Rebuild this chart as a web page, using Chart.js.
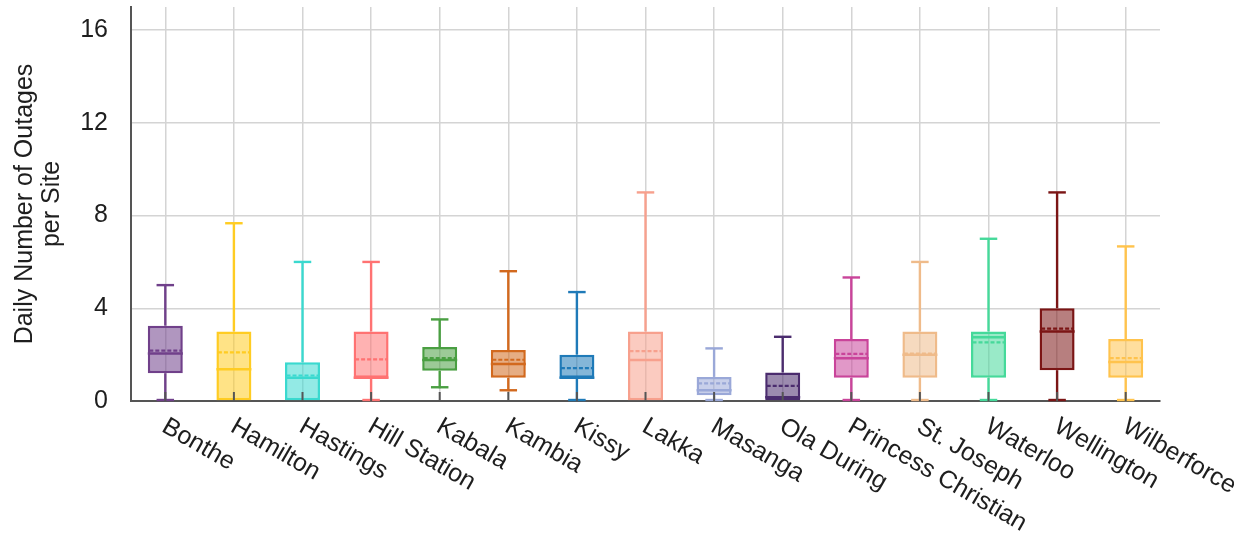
<!DOCTYPE html>
<html>
<head>
<meta charset="utf-8">
<title>Daily Number of Outages per Site</title>
<script src="https://cdn.jsdelivr.net/npm/chart.js@4.4.1/dist/chart.umd.min.js"></script>
<style>
  html, body { margin: 0; padding: 0; background: #ffffff; }
  #chart { display: block; }
</style>
</head>
<body>
<canvas id="chart" width="1246" height="533"></canvas>
<script>
// Sites on the category axis
const sites = ['Bonthe', 'Hamilton', 'Hastings', 'Hill Station', 'Kabala', 'Kambia', 'Kissy',
  'Lakka', 'Masanga', 'Ola During', 'Princess Christian', 'St. Joseph', 'Waterloo',
  'Wellington', 'Wilberforce'];

// Box-plot statistics of daily outages per site
const whiskerLow  = [0, 0, 0, 0, 0.55, 0.42, 0, 0, 0, 0, 0, 0, 0, 0, 0];
const q1          = [1.2, 0, 0, 1.0, 1.3, 1.0, 1.0, 0, 0.25, 0, 1.0, 1.0, 1.0, 1.33, 1.0];
const median      = [2.05, 1.37, 1.0, 1.0, 1.77, 1.6, 1.0, 1.77, 0.46, 0.16, 1.84, 2.0, 2.75, 3.0, 1.68];
const mean        = [2.17, 2.1, 1.1, 1.8, 1.85, 1.78, 1.42, 2.15, 0.76, 0.65, 2.03, 2.04, 2.53, 3.12, 1.85];
const q3          = [3.25, 3.0, 1.67, 3.0, 2.33, 2.2, 2.0, 3.0, 1.04, 1.23, 2.67, 3.0, 3.0, 4.0, 2.67];
const whiskerHigh = [5.0, 7.67, 6.0, 6.0, 3.52, 5.6, 4.7, 9.0, 2.27, 2.77, 5.33, 6.0, 7.0, 9.0, 6.67];

// Value-axis ticks
const yTicks = [0, 4, 8, 12, 16];

// One colour per site
const siteColors = ['#70408a', '#ffcc22', '#3ad9cf', '#ff7272', '#4a9f42', '#d2691e', '#1f7ab8',
  '#f7a08d', '#9aa8d8', '#4b2c6e', '#c9449a', '#efbb8a', '#45d99a', '#7b1515', '#ffc34d'];

const FONT = '"Liberation Sans", Arial, Helvetica, sans-serif';
const TEXT = '#1e1e1e';
const AXIS = '#555555';
const GRID = '#d4d4d4';

function withAlpha(hex, a) {
  const n = parseInt(hex.slice(1), 16);
  return `rgba(${(n >> 16) & 255}, ${(n >> 8) & 255}, ${n & 255}, ${a})`;
}

// Whiskers, caps, median and mean lines, inner axis ticks and slanted site names
const boxDetails = {
  id: 'boxDetails',
  afterDatasetsDraw(chart) {
    const ctx = chart.ctx;
    const ys = chart.scales.y;
    const area = chart.chartArea;
    const meta = chart.getDatasetMeta(0);
    const seg = (x1, y1, x2, y2) => { ctx.beginPath(); ctx.moveTo(x1, y1); ctx.lineTo(x2, y2); ctx.stroke(); };

    meta.data.forEach((bar, i) => {
      const cx = bar.x;
      const half = bar.width / 2;
      const capHalf = bar.width * 0.25;
      const col = siteColors[i];
      const py = v => ys.getPixelForValue(v);
      ctx.save();
      ctx.strokeStyle = col;
      ctx.lineWidth = 2.4;
      ctx.lineCap = 'butt';
      // upper whisker and cap
      seg(cx, py(q3[i]), cx, py(whiskerHigh[i]));
      seg(cx - capHalf, py(whiskerHigh[i]), cx + capHalf, py(whiskerHigh[i]));
      // lower whisker and cap
      if (whiskerLow[i] < q1[i]) {
        seg(cx, py(q1[i]), cx, py(whiskerLow[i]));
        seg(cx - capHalf, py(whiskerLow[i]) - 1, cx + capHalf, py(whiskerLow[i]) - 1);
      }
      // median
      ctx.lineWidth = 2.5;
      seg(cx - half, py(median[i]), cx + half, py(median[i]));
      // mean (dashed)
      ctx.lineWidth = 2.2;
      ctx.setLineDash([4, 2]);
      seg(cx - half + 1.5, py(mean[i]), cx + half - 1.5, py(mean[i]));
      ctx.restore();
    });

    // short tick marks pointing up into the plot at each site
    ctx.save();
    ctx.strokeStyle = AXIS;
    ctx.lineWidth = 2;
    meta.data.forEach(bar => seg(bar.x, area.bottom, bar.x, area.bottom - 9));
    ctx.restore();
  },
  afterDraw(chart) {
    const ctx = chart.ctx;
    const xs = chart.scales.x;
    const area = chart.chartArea;
    ctx.save();
    ctx.fillStyle = TEXT;
    ctx.font = `25px ${FONT}`;
    ctx.textAlign = 'left';
    ctx.textBaseline = 'top';
    sites.forEach((name, i) => {
      const x = xs.getPixelForValue(i);
      ctx.save();
      ctx.translate(x + 5, area.bottom + 13);
      ctx.rotate(Math.PI / 6);
      ctx.fillText(name, 0, 0);
      ctx.restore();
    });
    ctx.restore();
  }
};

new Chart(document.getElementById('chart'), {
  type: 'bar',
  data: {
    labels: sites,
    datasets: [{
      data: sites.map((_, i) => [q1[i], q3[i]]),
      backgroundColor: siteColors.map(c => withAlpha(c, 0.55)),
      borderColor: siteColors,
      borderWidth: 2.5,
      borderSkipped: false,
      barPercentage: 0.51,
      categoryPercentage: 1.0
    }]
  },
  options: {
    responsive: false,
    animation: false,
    events: [],
    layout: { padding: { top: 7, right: 86, bottom: 132, left: 0 } },
    plugins: {
      legend: { display: false },
      tooltip: { enabled: false },
      title: { display: false }
    },
    scales: {
      x: {
        type: 'category',
        offset: true,
        grid: { display: true, offset: false, color: GRID, lineWidth: 1.5, drawTicks: false },
        border: { display: true, color: AXIS, width: 2 },
        ticks: { display: false }
      },
      y: {
        min: 0,
        max: 17,
        afterBuildTicks: scale => { scale.ticks = yTicks.map(v => ({ value: v })); },
        afterFit: scale => {
          scale.width = 131;
          scale.paddingTop = 0;
          scale.paddingBottom = 0;
        },
        grid: { color: GRID, lineWidth: 1.5, drawTicks: false },
        border: { display: true, color: AXIS, width: 2 },
        ticks: {
          padding: 23,
          color: TEXT,
          font: { family: FONT, size: 25 }
        },
        title: {
          display: true,
          text: ['Daily Number of Outages', 'per Site'],
          color: TEXT,
          font: { family: FONT, size: 25, lineHeight: 1.1 },
          padding: { top: 11, bottom: 0 }
        }
      }
    }
  },
  plugins: [boxDetails]
});
</script>
</body>
</html>
